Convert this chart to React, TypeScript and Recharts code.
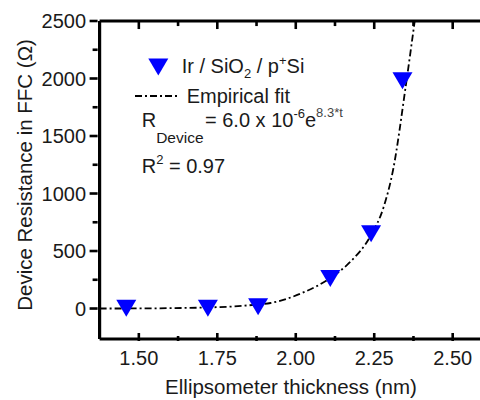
import React from 'react';
import { ComposedChart, XAxis, YAxis, Scatter, Line, ReferenceLine } from 'recharts';

const FONT = '"Liberation Sans", Arial, Helvetica, sans-serif';
const TEXT = '#1a1a1a';

// axis ticks
const X_MAJOR = [1.5, 1.75, 2.0, 2.25, 2.5];
const X_MINOR = [1.625, 1.875, 2.125, 2.375];
const Y_MAJOR = [0, 500, 1000, 1500, 2000, 2500];
const Y_MINOR = [250, 750, 1250, 1750, 2250];

// measured points: Ir / SiO2 / p+Si
const THICKNESS = [1.46, 1.72, 1.88, 2.11, 2.24, 2.34];
const RESISTANCE = [2, 3, 15, 260, 650, 1980];

// empirical fit curve
const FIT_THICKNESS = [1.375, 1.5, 1.6, 1.7, 1.8, 1.85, 1.92, 2.02, 2.11, 2.17, 2.24, 2.28, 2.31, 2.35, 2.379];
const FIT_RESISTANCE = [0, 1, 3, 8, 18, 28, 48, 135, 265, 396, 640, 882, 1204, 1926, 2500];

const X_DOMAIN = [1.375, 2.587];
const Y_DOMAIN = [-265, 2500];
const Y_TOP = 2500;
// top-frame tick lengths expressed in y units (about 8 px and 5 px)
const TOP_MAJOR_LEN = 70;
const TOP_MINOR_LEN = 44;

const scatterData = THICKNESS.map((x, i) => ({ x, y: RESISTANCE[i] }));
const fitData = FIT_THICKNESS.map((x, i) => ({ x, fit: FIT_RESISTANCE[i] }));
const xTicks = [...X_MAJOR, ...X_MINOR].sort((a, b) => a - b);
const yTicks = [...Y_MAJOR, ...Y_MINOR].sort((a, b) => a - b);

const DASH = '7 3 2 3';
const AXIS_W = 3.2;
const TICK_W = 2.6;

const Tri = ({ cx, cy }: { cx: number; cy: number }) => (
  <polygon
    points={`${cx - 10},${cy - 8.5} ${cx + 10},${cy - 8.5} ${cx},${cy + 8.5}`}
    fill="#0000ff"
  />
);

const isMajorX = (v: number) => X_MAJOR.some((m) => Math.abs(m - v) < 1e-9);

const BottomTick = (props: any) => {
  const { x, y, payload } = props;
  const v = payload.value;
  const major = isMajorX(v);
  const len = major ? 8 : 5;
  return (
    <g>
      <rect x={x - TICK_W / 2} y={y - len} width={TICK_W} height={len} fill="#000" />
      {major && (
        <text x={x} y={y + 24} textAnchor="middle" fontSize={20} fill={TEXT} fontFamily={FONT}>
          {v.toFixed(2)}
        </text>
      )}
    </g>
  );
};

const LeftTick = (props: any) => {
  const { x, y, payload } = props;
  const v = payload.value;
  const major = Y_MAJOR.includes(v);
  const len = major ? 8 : 5;
  return (
    <g>
      <rect x={x - len} y={y - TICK_W / 2} width={len} height={TICK_W} fill="#000" />
      {major && (
        <text x={x - 11.5} y={y + 7} textAnchor="end" fontSize={20} fill={TEXT} fontFamily={FONT}>
          {v}
        </text>
      )}
    </g>
  );
};

const Annotations = () => (
  <svg
    width={480}
    height={400}
    style={{ position: 'absolute', left: 0, top: 0, pointerEvents: 'none' }}
    fontFamily={FONT}
  >
    <text x={32} y={175} transform="rotate(-90, 32, 175)" textAnchor="middle" fontSize={20.5} fill={TEXT}>
      Device Resistance in FFC (Ω)
    </text>
    <text x={291} y={394} textAnchor="middle" fontSize={20.5} fill={TEXT}>
      Ellipsometer thickness (nm)
    </text>
    <Tri cx={158.3} cy={67} />
    <text y={72.7} fontSize={20} fill={TEXT}>
      <tspan x={181.7}>Ir / SiO</tspan>
      <tspan fontSize={13} dy={5}>2</tspan>
      <tspan dy={-5}> / p</tspan>
      <tspan fontSize={13} dy={-8}>+</tspan>
      <tspan dy={8}>Si</tspan>
    </text>
    <line x1={135} x2={180} y1={96} y2={96} stroke="#000" strokeWidth={1.8} strokeDasharray={DASH} />
    <text x={186.7} y={103.3} fontSize={20} fill={TEXT}>Empirical fit</text>
    <text y={126.7} fontSize={20} fill={TEXT}>
      <tspan x={141.7}>R</tspan>
      <tspan fontSize={15.5} dy={16}>Device</tspan>
      <tspan x={205} dy={-16}>= 6.0 x 10</tspan>
      <tspan fontSize={13} dy={-9}>-6</tspan>
      <tspan dy={9}>e</tspan>
      <tspan fontSize={13} dy={-10} fill="#444">8.3*t</tspan>
    </text>
    <text y={173.3} fontSize={20} fill={TEXT}>
      <tspan x={141.7}>R</tspan>
      <tspan fontSize={13} dy={-9}>2</tspan>
      <tspan dy={9}> = 0.97</tspan>
    </text>
  </svg>
);

export default function App() {
  return (
    <div style={{ position: 'fixed', left: 0, top: 0, width: 480, height: 400, overflow: 'hidden', background: '#fff', fontFamily: FONT }}>
      <ComposedChart width={480} height={400} margin={{ top: 21, right: 0, bottom: 0, left: 0 }}>
        <XAxis
          dataKey="x"
          type="number"
          domain={X_DOMAIN}
          ticks={xTicks}
          tickSize={0}
          tickLine={false}
          tick={BottomTick}
          axisLine={{ stroke: '#000000', strokeWidth: AXIS_W }}
          height={61}
        />
        <YAxis
          type="number"
          domain={Y_DOMAIN}
          ticks={yTicks}
          tickSize={0}
          tickLine={false}
          tick={LeftTick}
          axisLine={{ stroke: '#000000', strokeWidth: AXIS_W }}
          width={99.6}
        />
        <ReferenceLine y={Y_TOP} stroke="#000" strokeWidth={AXIS_W} />
        {xTicks.map((t) => (
          <ReferenceLine
            key={t}
            segment={[
              { x: t, y: Y_TOP },
              { x: t, y: Y_TOP - (isMajorX(t) ? TOP_MAJOR_LEN : TOP_MINOR_LEN) },
            ]}
            stroke="#000"
            strokeWidth={TICK_W}
          />
        ))}
        <Line
          data={fitData}
          dataKey="fit"
          type="monotone"
          stroke="#000"
          strokeWidth={1.8}
          strokeDasharray={DASH}
          dot={false}
          activeDot={false}
          isAnimationActive={false}
        />
        <Scatter
          data={scatterData}
          dataKey="y"
          shape={(p: any) => <Tri cx={p.cx} cy={p.cy} />}
          isAnimationActive={false}
        />
      </ComposedChart>
      <Annotations />
    </div>
  );
}
